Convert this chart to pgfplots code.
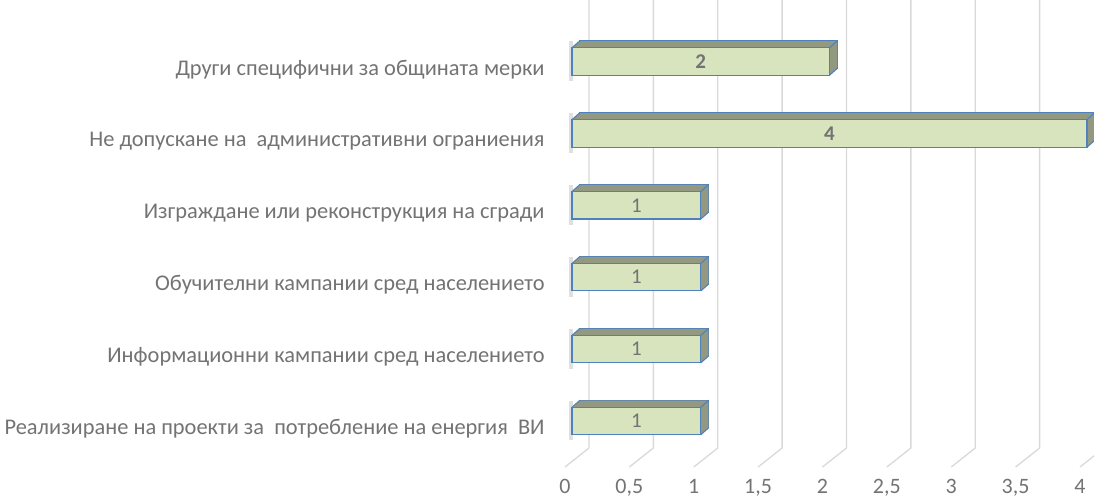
\documentclass[border=0pt]{standalone}
\usepackage{pgfplots}
\usepackage{pgfplotstable}
\pgfplotsset{compat=1.18}
\usepackage{fontspec}
\setmainfont{Carlito}
\definecolor{frontc}{HTML}{D7E4BD}
\definecolor{topc}{HTML}{939880}
\definecolor{edgec}{HTML}{4F81BD}
\definecolor{gridc}{HTML}{D9D9D9}
\definecolor{txt}{HTML}{737373}
\pgfplotstableread{
y v
0 1
1 1
2 1
3 1
4 4
5 2
}\bardata
\begin{document}
\begin{tikzpicture}
\useasboundingbox (0,0) rectangle (1094pt,499pt);
\begin{axis}[
  at={(572pt,51pt)}, anchor=south west, scale only axis,
  width=515pt, height=448pt,
  xmin=0, xmax=4, ymin=-0.3755, ymax=5.855,
  axis line style={draw=none}, major tick length=0pt,
  clip=false,
  xtick={0,0.5,...,4},
  ytick={0,1,2,3,4,5},
  yticklabels={Реализиране на проекти за\ \ потребление на енергия\ \ ВИ,
    Информационни кампании сред населението,
    Обучителни кампании сред населението\ ,
    Изграждане или реконструкция на сгради,
    Не допускане на\ \ административни ограниения\ ,
    Други специфични за общината мерки},
  yticklabel style={font=\fontsize{22.4}{26}\selectfont, text=txt, xshift=-24pt, yshift=-8pt},
  xticklabel style={font=\fontsize{22}{26}\selectfont, text=txt, anchor=base, xshift=-7pt, yshift=-45.5pt},
  /pgf/number format/use comma,
  /pgf/number format/assume math mode=true,
]
\pgfplotsinvokeforeach{0,0.5,1,1.5,2,2.5,3,3.5,4}{
  \draw[gridc, line width=1.3pt] ([xshift=-7pt,yshift=-19pt]axis cs:#1,-0.3755) -- ([xshift=17pt]axis cs:#1,-0.3755) -- ([xshift=17pt]axis cs:#1,5.855);
}
% soft shadow at the left end of each bar
\addplot[quiver={u=0, v=-0.55}, -, draw=black, opacity=0.12, line width=4pt, xshift=-1.5pt, forget plot]
  table[x expr=0, y expr=\thisrow{y}+0.28] {\bardata};
% depth of the bars (top and side faces)
\addplot[xbar, bar width=27.5pt, fill=topc, draw=edgec, line width=1.1pt, xshift=8pt, yshift=7pt, forget plot] table[x=v, y=y] {\bardata};
\pgfplotsinvokeforeach{7.5,7,6.5,6,5.5,5,4.5,4,3.5,3,2.5,2,1.5,1,0.5}{
  \addplot[xbar, bar width=27.5pt, fill=topc, draw=none, xshift=#1pt, yshift={0.875*#1pt}, forget plot] table[x=v, y=y] {\bardata};
}
% diagonal edges of the boxes
\addplot[quiver={u=0.0621, v=0.0974}, -, draw=edgec, line width=1.1pt, forget plot]
  table[x expr=0, y expr=\thisrow{y}+0.1912] {\bardata};
\addplot[quiver={u=0.0621, v=0.0974}, -, draw=edgec, line width=1.1pt, forget plot]
  table[x=v, y expr=\thisrow{y}+0.1912] {\bardata};
\addplot[quiver={u=0.0621, v=0.0974}, -, draw=edgec, line width=1.1pt, forget plot]
  table[x=v, y expr=\thisrow{y}-0.1912] {\bardata};
% front faces
\addplot[xbar, bar width=27.5pt, fill=frontc, draw=edgec, line width=1.1pt, forget plot] table[x=v, y=y] {\bardata};
\addplot[draw=none, mark=none, nodes near coords, point meta=explicit symbolic,
  every node near coord/.append style={anchor=center, font=\bfseries\fontsize{21}{24}\selectfont, text=txt}]
  coordinates {(1,5)[2] (2,4)[4]};
\addplot[draw=none, mark=none, nodes near coords, point meta=explicit symbolic,
  every node near coord/.append style={anchor=center, font=\fontsize{21}{24}\selectfont, text=txt}]
  coordinates {(0.5,0)[1] (0.5,1)[1] (0.5,2)[1] (0.5,3)[1]};
\end{axis}
\end{tikzpicture}
\end{document}
